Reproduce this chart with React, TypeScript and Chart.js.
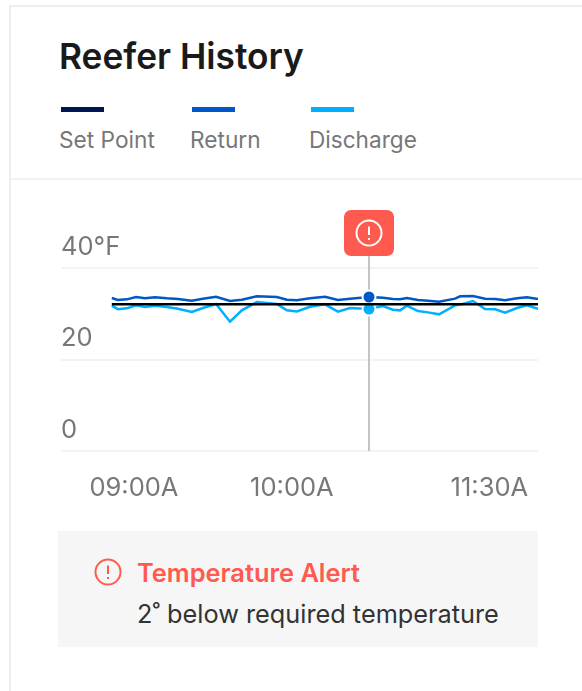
import React, { useEffect, useRef } from "react";
import { Chart, registerables } from "chart.js";

Chart.register(...registerables);

const sampleMinutes = [-8.4,-6.1,-2.7,0.8,4.2,8.0,12.5,16.7,22.0,26.2,31.2,36.5,41.0,46.7,54.3,58.1,61.9,66.9,72.6,77.5,82.1,89.3,94.6,98.4,101.1,103.7,107.9,111.7,115.9,122.0,123.9,128.8,133.4,137.2,141.0,145.5,149.3,153.5];
const setPointValues = [32.1,32.1,32.1,32.1,32.1,32.1,32.1,32.1,32.1,32.1,32.1,32.1,32.1,32.1,32.1,32.1,32.1,32.1,32.1,32.1,32.1,32.1,32.1,32.1,32.1,32.1,32.1,32.1,32.1,32.1,32.1,32.1,32.1,32.1,32.1,32.1,32.1,32.1];
const returnValues = [33.44,33.0,33.15,33.66,33.37,33.59,33.37,33.22,32.86,33.3,33.73,32.78,33.07,33.8,33.66,33.07,32.93,33.4,33.73,33.0,33.3,33.66,33.51,33.22,33.15,33.44,33.0,32.86,32.64,33.3,33.8,33.87,33.3,33.22,32.93,33.37,33.59,33.22];
const dischargeValues = [31.76,31.0,31.18,31.84,31.47,31.76,31.47,31.1,30.4,31.25,32.13,28.27,30.74,32.56,32.13,30.74,30.52,31.54,32.05,30.45,31.25,31.03,31.69,30.89,30.74,31.76,30.6,30.3,29.87,31.84,32.0,32.78,31.03,30.96,30.23,31.25,31.84,31.1];
const xTickPositions = [0, 60, 135];
const xTickLabels = ["09:00A", "10:00A", "11:30A"];
const yTickValues = [0, 20, 40];
const yTickLabels = ["0", "20", "40°F"];
const alertIndex = 21;

const FONT = "Inter, 'Noto Sans', sans-serif";
const RED = "#ff5a50";
const NAVY = "#001650";
const BLUE = "#0057c7";
const CYAN = "#00b0ff";

const alertPlugin = {
  id: "alertMarker",
  beforeDatasetsDraw(chart: any) {
    const { ctx, scales } = chart;
    const x = Math.round(scales.x.getPixelForValue(sampleMinutes[alertIndex]));
    ctx.save();
    ctx.strokeStyle = "#c4c4c4";
    ctx.lineWidth = 2;
    ctx.beginPath();
    ctx.moveTo(x, 250);
    ctx.lineTo(x, scales.y.getPixelForValue(0));
    ctx.stroke();
    ctx.restore();
  },
  afterDatasetsDraw(chart: any) {
    const { ctx, scales } = chart;
    const x = Math.round(scales.x.getPixelForValue(sampleMinutes[alertIndex]));
    ctx.save();
    ctx.fillStyle = RED;
    ctx.beginPath();
    ctx.roundRect(x - 25, 210, 50, 46, 7);
    ctx.fill();
    ctx.strokeStyle = "#fff";
    ctx.lineWidth = 2;
    ctx.beginPath();
    ctx.arc(x, 233, 12.5, 0, Math.PI * 2);
    ctx.stroke();
    ctx.beginPath();
    ctx.moveTo(x, 226.5);
    ctx.lineTo(x, 235);
    ctx.stroke();
    ctx.beginPath();
    ctx.moveTo(x, 238);
    ctx.lineTo(x, 240);
    ctx.stroke();
    ctx.restore();
  },
};

const text = (
  s: string,
  left: number,
  centerY: number,
  size: number,
  color: string,
  weight = 400,
): React.ReactElement => (
  <div
    style={{
      position: "absolute",
      left,
      top: centerY - 20,
      height: 40,
      lineHeight: "40px",
      fontFamily: FONT,
      fontSize: size,
      fontWeight: weight,
      color,
      whiteSpace: "nowrap",
    }}
  >
    {s}
  </div>
);

const box = (left: number, top: number, width: number, height: number, background: string): React.ReactElement => (
  <div style={{ position: "absolute", left, top, width, height, background }} />
);

export default function App() {
  const ref = useRef<HTMLCanvasElement>(null);
  useEffect(() => {
    const radius = (i: number) => i === alertIndex;
    const chart = new Chart(ref.current!, {
      type: "line",
      data: {
        labels: sampleMinutes,
        datasets: [
          {
            label: "Set Point",
            data: sampleMinutes.map((x, i) => ({ x, y: setPointValues[i] })),
            borderColor: "#000",
            borderWidth: 2.5,
            pointRadius: 0,
            tension: 0,
          },
          {
            label: "Return",
            data: sampleMinutes.map((x, i) => ({ x, y: returnValues[i] })),
            borderColor: BLUE,
            backgroundColor: BLUE,
            borderWidth: 2.5,
            pointRadius: sampleMinutes.map((_, i) => (radius(i) ? 6.5 : 0)),
            pointBorderColor: "#fff",
            pointBorderWidth: 2,
            tension: 0,
          },
          {
            label: "Discharge",
            data: sampleMinutes.map((x, i) => ({ x, y: dischargeValues[i] })),
            borderColor: CYAN,
            backgroundColor: CYAN,
            borderWidth: 2.5,
            pointRadius: sampleMinutes.map((_, i) => (radius(i) ? 6.5 : 0)),
            pointBorderColor: "#fff",
            pointBorderWidth: 2,
            tension: 0,
          },
        ],
      },
      options: {
        animation: false,
        responsive: false,
        layout: { padding: { left: 61, right: 44, top: 268, bottom: 180 } },
        plugins: { legend: { display: false }, tooltip: { enabled: false } },
        scales: {
          x: {
            type: "linear",
            min: -27.7,
            max: 153.5,
            grid: { display: false },
            border: { display: false },
            afterBuildTicks: (s: any) => {
              s.ticks = xTickPositions.map((value) => ({ value }));
            },
            afterFit: (s: any) => {
              s.height = 60;
            },
            ticks: {
              autoSkip: false,
              maxRotation: 0,
              padding: 14,
              color: "#777",
              font: { family: FONT, size: 25.5 },
              callback: (v: any) => xTickLabels[xTickPositions.indexOf(v)],
            },
          },
          y: {
            type: "linear",
            min: 0,
            max: 40,
            grid: { color: "#f3f3f3", lineWidth: 2, drawTicks: false },
            border: { display: false },
            afterBuildTicks: (s: any) => {
              s.ticks = yTickValues.map((value) => ({ value }));
            },
            afterFit: (s: any) => {
              s.width = 0;
            },
            ticks: {
              mirror: true,
              padding: 0,
              labelOffset: -21,
              color: "#777",
              font: { family: FONT, size: 25.5 },
              callback: (v: any) => yTickLabels[yTickValues.indexOf(v)],
            },
          },
        },
      } as any,
      plugins: [alertPlugin],
    });
    return () => chart.destroy();
  }, []);

  return (
    <div style={{ position: "absolute", left: 0, top: 0, width: 582, height: 691, overflow: "hidden", background: "#fff" }}>
      {box(9, 5, 573, 2, "#eeeeee")}
      {box(9, 5, 2, 686, "#eeeeee")}
      {box(11, 178, 571, 2, "#f2f2f2")}
      {text("Reefer History", 59, 57, 35.3, "#1a1a1a", 600)}
      {box(61, 107, 43, 5, NAVY)}
      {box(192, 107, 43, 5, BLUE)}
      {box(311, 107, 43, 5, CYAN)}
      {text("Set Point", 59, 139.5, 22.7, "#777")}
      {text("Return", 190, 139.5, 22.7, "#777")}
      {text("Discharge", 309, 139.5, 22.6, "#777")}
      <canvas ref={ref} width={582} height={691} style={{ position: "absolute", left: 0, top: 0, width: 582, height: 691 }} />
      {box(58, 531, 480, 116, "#f6f6f6")}
      <svg style={{ position: "absolute", left: 94, top: 558 }} width={28} height={28} viewBox="0 0 28 28">
        <circle cx={14} cy={14} r={12.5} fill="none" stroke={RED} strokeWidth={2} />
        <line x1={14} y1={7.5} x2={14} y2={16} stroke={RED} strokeWidth={2} />
        <line x1={14} y1={19} x2={14} y2={21} stroke={RED} strokeWidth={2} />
      </svg>
      {text("Temperature Alert", 137, 573, 25.4, RED, 600)}
      {text("2˚ below required temperature", 137, 613.5, 25.3, "#333")}
    </div>
  );
}
